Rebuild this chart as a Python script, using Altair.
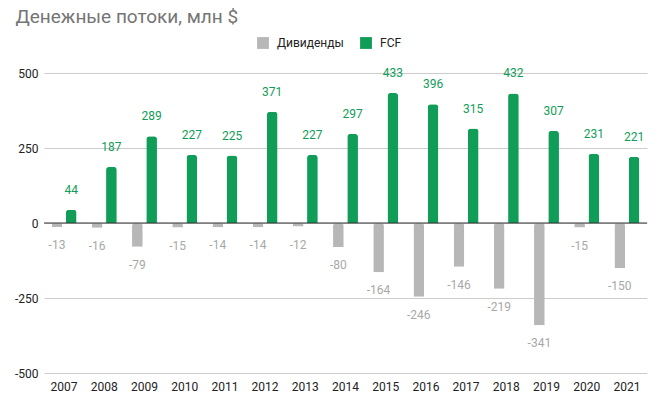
import altair as alt
import pandas as pd

years = [str(y) for y in range(2007, 2022)]
dividends = [-13, -16, -79, -15, -14, -14, -12, -80, -164, -246, -146, -219, -341, -15, -150]
fcf = [44, 187, 289, 227, 225, 371, 227, 297, 433, 396, 315, 432, 307, 231, 221]
series_names = ["Дивиденды", "FCF"]
colors = ["#b7b7b7", "#0f9d58"]
label_colors = ["#a8a8a8", "#0f9d58"]

rows = []
for y, d, f in zip(years, dividends, fcf):
    rows.append({"year": y, "series": series_names[0], "value": d, "label": str(d)})
    rows.append({"year": y, "series": series_names[1], "value": f, "label": str(f)})
df = pd.DataFrame(rows)

FONT = "Roboto"

x_enc = alt.X("year:N", title=None, sort=years,
              scale=alt.Scale(paddingInner=0.38, paddingOuter=0.19),
              axis=alt.Axis(labelAngle=0, ticks=False, domain=False, grid=False,
                            labelFontSize=12, labelColor="#222", labelFont=FONT,
                            labelPadding=8))
xoff = alt.XOffset("series:N", sort=series_names, scale=alt.Scale(paddingInner=0.25))
y_scale = alt.Scale(domain=[-500, 500], nice=False)

base = alt.Chart(df)

bars = base.mark_bar(cornerRadiusEnd=3).encode(
    x=x_enc,
    xOffset=xoff,
    y=alt.Y("value:Q", title=None, scale=y_scale,
            axis=alt.Axis(values=[-500, -250, 0, 250, 500], ticks=False, domain=False,
                          gridColor="#cccccc", labelFontSize=12, labelColor="#222",
                          labelFont=FONT, labelPadding=6,
                          labelExpr="'' + datum.value")),
    color=alt.Color("series:N", sort=series_names,
                    scale=alt.Scale(domain=series_names, range=colors),
                    legend=alt.Legend(title=None, orient="none", direction="horizontal",
                                      legendX=213, legendY=-36, symbolType="square",
                                      symbolSize=140, symbolStrokeWidth=0, labelOffset=8,
                                      labelFontSize=12, labelFont=FONT, labelColor="#222",
                                      columnPadding=16)),
)

pos_labels = base.transform_filter(alt.datum.value >= 0).mark_text(
    baseline="bottom", dy=-13, fontSize=12, font=FONT, color=label_colors[1]
).encode(x=x_enc, xOffset=xoff, y=alt.Y("value:Q", scale=y_scale), text="label:N")

neg_labels = base.transform_filter(alt.datum.value < 0).mark_text(
    baseline="top", dy=13, fontSize=12, font=FONT, color=label_colors[0]
).encode(x=x_enc, xOffset=xoff, y=alt.Y("value:Q", scale=y_scale), text="label:N")

zero = alt.Chart(pd.DataFrame({"z": [0]})).mark_rule(color="#333333", strokeWidth=1).encode(
    y=alt.Y("z:Q", scale=y_scale)
)

chart = alt.layer(bars, zero, pos_labels, neg_labels).properties(
    width=603, height=300,
    autosize=alt.AutoSizeParams(type="none"),
    padding={"left": 36, "top": 65, "right": 7, "bottom": 20},
    title=alt.TitleParams("Денежные потоки, млн $", anchor="start", fontSize=19,
                          font=FONT, fontWeight="normal", color="#757575",
                          dx=1, offset=10),
).configure_view(stroke=None)

chart.save("out.html", embed_options={"renderer": "svg", "actions": False})
